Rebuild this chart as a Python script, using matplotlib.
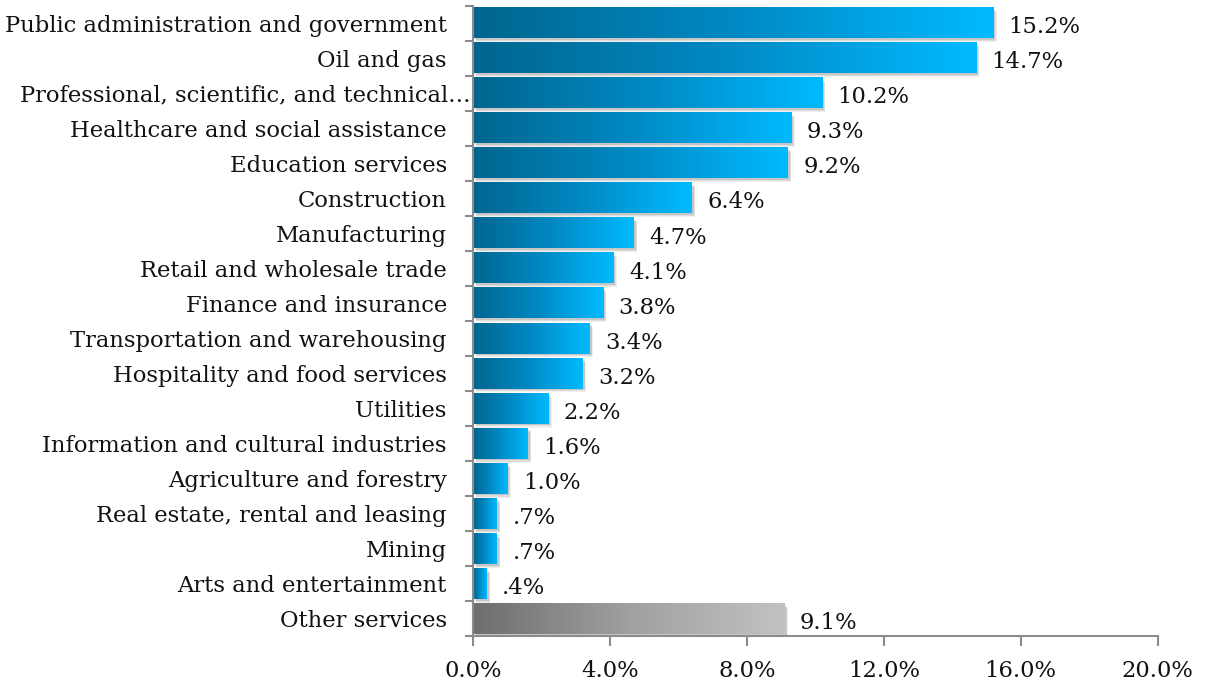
import numpy as np
import matplotlib.pyplot as plt
import matplotlib.transforms as mtransforms
from matplotlib.colors import LinearSegmentedColormap
from matplotlib.patches import Rectangle

categories = [
    "Public administration and government",
    "Oil and gas",
    "Professional, scientific, and technical\u2026",
    "Healthcare and social assistance",
    "Education services",
    "Construction",
    "Manufacturing",
    "Retail and wholesale trade",
    "Finance and insurance",
    "Transportation and warehousing",
    "Hospitality and food services",
    "Utilities",
    "Information and cultural industries",
    "Agriculture and forestry",
    "Real estate, rental and leasing",
    "Mining",
    "Arts and entertainment",
    "Other services",
]
values = [15.2, 14.7, 10.2, 9.3, 9.2, 6.4, 4.7, 4.1, 3.8, 3.4, 3.2, 2.2, 1.6, 1.0, 0.7, 0.7, 0.4, 9.1]
value_labels = ["15.2%", "14.7%", "10.2%", "9.3%", "9.2%", "6.4%", "4.7%", "4.1%", "3.8%",
                "3.4%", "3.2%", "2.2%", "1.6%", "1.0%", ".7%", ".7%", ".4%", "9.1%"]
x_ticks = [0, 4, 8, 12, 16, 20]
x_tick_labels = ["0.0%", "4.0%", "8.0%", "12.0%", "16.0%", "20.0%"]

plt.rcParams['font.family'] = ['DejaVu Serif']
FS = 16.3

blue_cmap = LinearSegmentedColormap.from_list("blue", ["#00668f", "#0089c4", "#00baff"])
gray_cmap = LinearSegmentedColormap.from_list("gray", ["#6e6e6e", "#a0a0a0", "#c2c2c2"])

fig = plt.figure(figsize=(12.07, 6.88), dpi=100)
ax = fig.add_axes([0.392, 0.075, 0.567, 0.917])

n = len(categories)
bar_h = 0.86
grad = np.linspace(0, 1, 256).reshape(1, -1)

for i, (v, lab) in enumerate(zip(values, value_labels)):
    y = i
    cmap = gray_cmap if categories[i] == "Other services" else blue_cmap
    # soft drop shadow
    for k, a in enumerate([0.10, 0.08, 0.06]):
        off = 0.05 + 0.03 * k
        ax.add_patch(Rectangle((0.03 + off * 0.6, y - bar_h / 2 + off), v, bar_h,
                               facecolor="#000000", alpha=a, edgecolor="none", zorder=1))
    ax.imshow(grad, cmap=cmap, aspect="auto", interpolation="bicubic",
              extent=(0, v, y + bar_h / 2, y - bar_h / 2), zorder=2)
    ax.text(v + 0.45, y + 0.12, lab, va="center", ha="left", fontsize=FS, color="#111111")

ax.set_xlim(0, 20)
ax.set_ylim(n - 0.5, -0.5)

ax.set_yticks(range(n))
ax.set_yticklabels(categories, fontsize=FS, color="#111111")
ax.tick_params(axis="y", which="major", length=0, pad=19)
ax.set_yticks(np.arange(-0.5, n, 1.0), minor=True)
ax.tick_params(axis="y", which="minor", length=6, color="#8c8c8c", width=1.5)

# the truncated long label runs right up to the axis line
for t in ax.get_yticklabels():
    if t.get_text().endswith("\u2026"):
        t.set_transform(t.get_transform() +
                        mtransforms.ScaledTranslation(24 / 100, 0, fig.dpi_scale_trans))

ax.set_xticks(x_ticks)
ax.set_xticklabels(x_tick_labels, fontsize=FS, color="#111111")
ax.tick_params(axis="x", length=7, color="#8c8c8c", width=1.5, pad=10)

for s in ["top", "right"]:
    ax.spines[s].set_visible(False)
for s in ["left", "bottom"]:
    ax.spines[s].set_color("#8c8c8c")
    ax.spines[s].set_linewidth(1.5)

fig.savefig("out.png", dpi=100, facecolor="white")
